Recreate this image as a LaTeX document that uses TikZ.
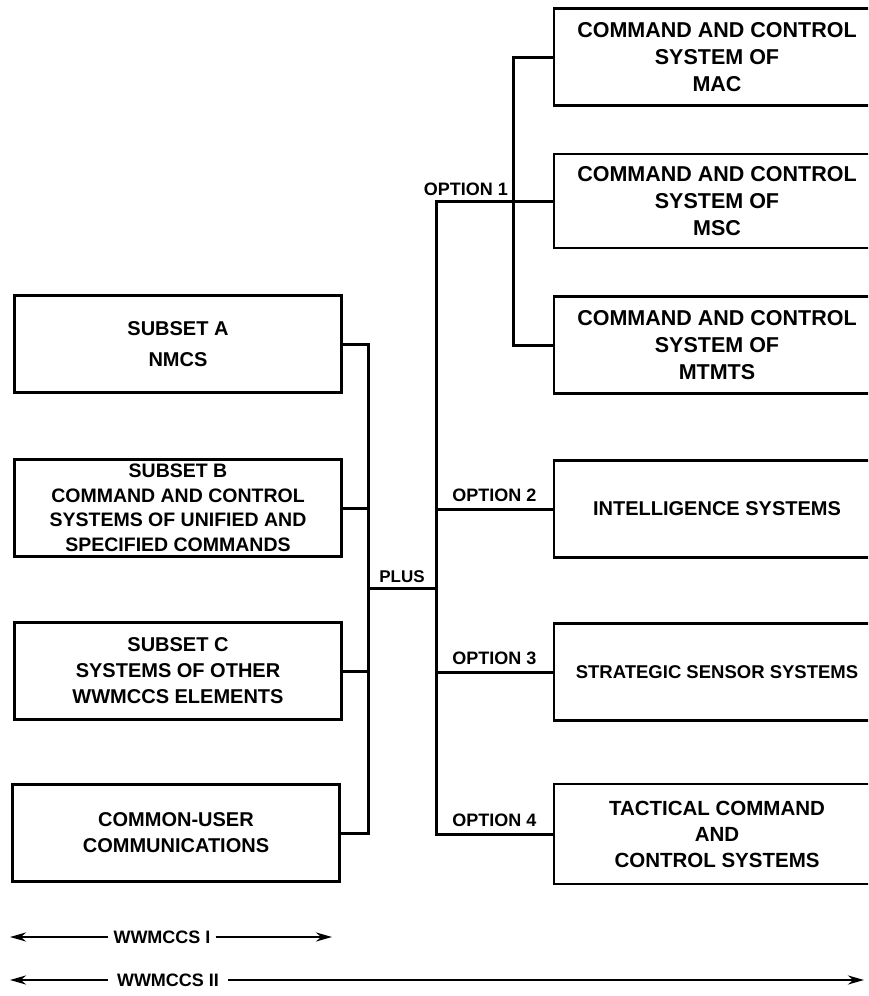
\documentclass[tikz,border=0pt]{standalone}
\usepackage{fontspec}
\setmainfont{Liberation Sans}
\usetikzlibrary{arrows.meta}

\begin{document}
\begin{tikzpicture}[x=1pt, y=-1pt,
  sysbox/.style={rectangle, draw, line width=2.3pt, align=center, inner sep=0pt, minimum height=97pt, font=\bfseries\fontsize{20}{26}\selectfont},
  leftbox/.style={sysbox, minimum width=327pt},
  rightbox/.style={sysbox, minimum width=326pt},
  ccbox/.style={rightbox, font=\bfseries\fontsize{21.5}{27}\selectfont},
  wire/.style={line width=3pt},
  optlabel/.style={font=\bfseries\fontsize{18}{20}\selectfont, inner sep=6pt},
  spanlabel/.style={font=\bfseries\fontsize{18}{20}\selectfont, inner sep=5pt},
  span/.style={line width=2.4pt, -{Stealth[length=16pt, width=9pt]}}]
\useasboundingbox (0,0) rectangle (868,996);
\clip (0,0) rectangle (868,996);

\node[leftbox] (subA) at (178,344) {SUBSET A\\[5pt]NMCS};
\node[leftbox, font=\bfseries\fontsize{19.5}{24.5}\selectfont] (subB) at (178,508) {SUBSET B\\COMMAND AND CONTROL\\SYSTEMS OF UNIFIED AND\\SPECIFIED COMMANDS};
\node[leftbox] (subC) at (178,671) {SUBSET C\\SYSTEMS OF OTHER\\WWMCCS ELEMENTS};
\node[leftbox] (common) at (176,833) {COMMON-USER\\COMMUNICATIONS};

\node[ccbox] (mac) at (717,57) {COMMAND AND CONTROL\\SYSTEM OF\\MAC};
\node[ccbox, minimum height=94pt] (msc) at (717,201) {COMMAND AND CONTROL\\SYSTEM OF\\MSC};
\node[ccbox] (mtmts) at (717,345) {COMMAND AND CONTROL\\SYSTEM OF\\MTMTS};
\node[rightbox] (intel) at (717,509) {INTELLIGENCE SYSTEMS};
\node[rightbox, font=\bfseries\fontsize{18.5}{26}\selectfont] (sensor) at (717,672) {STRATEGIC SENSOR SYSTEMS};
\node[rightbox, minimum height=100pt, font=\bfseries\fontsize{20.5}{26}\selectfont] (tactical) at (717,834) {TACTICAL COMMAND\\AND\\CONTROL SYSTEMS};

\coordinate (busL) at (368,588);
\coordinate (busR) at (436,588);
\coordinate (opt1) at (513,201);

\draw[wire] (subA.east) -| (busL) |- (common.east);
\draw[wire] (subB.east) -- (subB.east -| busL);
\draw[wire] (subC.east) -- (subC.east -| busL);
\draw[wire] (busL) -- node[above, font=\bfseries\fontsize{17}{19}\selectfont, inner sep=4pt] (plus) {PLUS} (busR);

\draw[wire] (msc.west) -| (busR) |- (tactical.west);
\draw[wire] (mac.west) -| (opt1) |- (mtmts.west);
\node[optlabel, anchor=south east, inner sep=5pt] (o1) at (opt1) {OPTION 1};
\draw[wire] (busR |- intel.west) -- node[optlabel, above] (o2) {OPTION 2} (intel.west);
\draw[wire] (busR |- sensor.west) -- node[optlabel, above] (o3) {OPTION 3} (sensor.west);
\draw[wire] (busR |- tactical.west) -- node[optlabel, above] (o4) {OPTION 4} (tactical.west);

\node[spanlabel] (wwI) at (162,937) {WWMCCS I};
\coordinate (wwIl) at (10,937);
\coordinate (wwIr) at (332,937);
\draw[span] (wwI.west) -- (wwIl);
\draw[span] (wwI.east) -- (wwIr);

\node[spanlabel, inner xsep=9pt] (wwII) at (168,980) {WWMCCS II};
\coordinate (wwIIl) at (10,980);
\coordinate (wwIIr) at (864,980);
\draw[span] (wwII.west) -- (wwIIl);
\draw[span] (wwII.east) -- (wwIIr);
\end{tikzpicture}
\end{document}
